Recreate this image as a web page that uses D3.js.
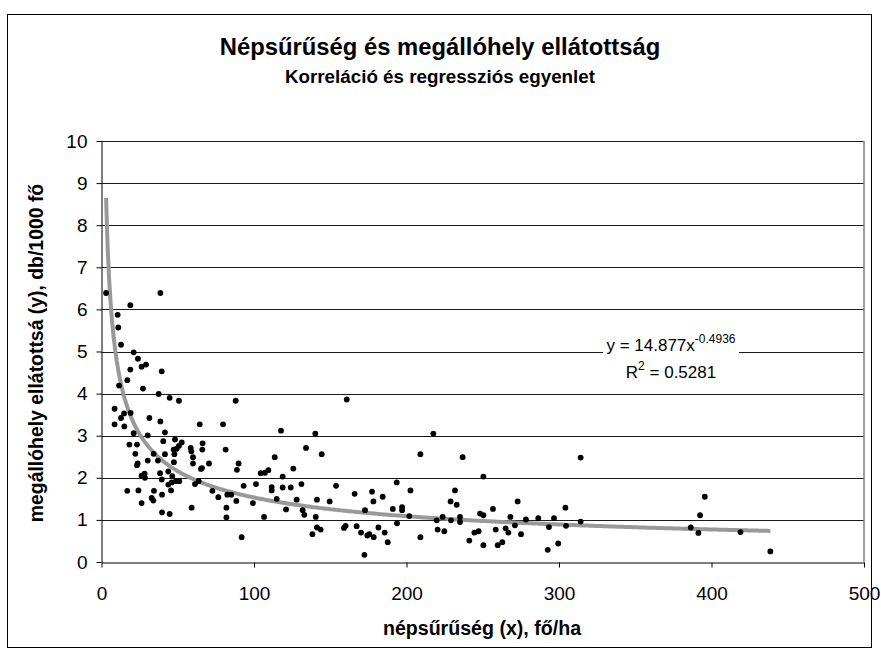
<!DOCTYPE html>
<html>
<head>
<meta charset="utf-8">
<script src="https://cdn.jsdelivr.net/npm/d3@7"></script>
<style>
    body { margin: 0; background: #fff; }
    text { font-family: "Liberation Sans", Arial, sans-serif; }
</style>
</head>
<body>
<div id="canvas"></div>
<script>
"use strict"

/*** DATA ***/
/* népsűrűség (x), fő/ha */
let densityX = [
    3.0, 38.6, 18.9, 10.6, 11.0, 12.8, 21.1, 23.9, 26.3, 29.2, 18.9, 39.5, 16.9, 11.5, 27.2, 37.5,
    44.7, 50.8, 88.0, 8.6, 14.8, 19.1, 12.8, 31.4, 38.6, 8.6, 15.0, 64.4, 79.7, 21.1, 30.3, 41.6,
    40.5, 48.2, 52.6, 18.3, 23.3, 50.8, 58.5, 66.3, 47.3, 49.3, 58.9, 66.1, 81.4, 22.2, 41.6, 47.8,
    34.2, 60.0, 37.0, 47.5, 30.3, 23.7, 23.3, 60.0, 70.5, 65.9, 65.2, 89.9, 88.8, 38.4, 43.8, 28.3,
    26.3, 28.5, 39.5, 46.4, 43.8, 46.0, 48.8, 51.0, 45.6, 61.3, 63.7, 16.9, 24.2, 34.4, 32.9, 34.0,
    39.7, 26.3, 72.7, 76.6, 82.5, 85.1, 88.4, 93.2, 99.3, 59.1, 39.7, 44.7, 81.9, 81.9, 91.9,
    160.8, 117.7, 140.2, 134.1, 144.4, 113.6, 125.8, 104.4, 107.2, 109.4, 118.8, 101.3, 111.6, 111.6,
    118.8, 124.1, 131.1, 153.8, 193.6, 202.6, 166.0, 177.4, 178.3, 184.4, 128.0, 141.3, 149.6, 114.9,
    121.0, 131.9, 133.0, 106.6, 140.5, 172.8, 191.0, 197.1, 197.1, 193.8, 141.3, 143.7, 138.3, 159.0,
    160.1, 167.3, 170.2, 174.3, 175.6, 178.5, 181.6, 185.7, 187.7, 172.4,
    217.6, 209.1, 236.8, 250.4, 231.8, 228.9, 232.9, 272.9, 256.7, 304.2, 201.8, 248.2, 250.4, 223.7,
    235.1, 219.8, 229.2, 235.1, 268.1, 278.3, 286.4, 296.7, 271.1, 265.0, 266.8, 258.5, 220.4, 224.8,
    244.5, 247.3, 275.1, 293.4, 209.1, 241.2, 250.4, 259.8, 262.8, 299.5, 292.6,
    314.2, 314.2, 304.6, 395.6, 392.5, 386.4, 391.4, 419.0, 438.6
]

/* megállóhely ellátottság (y), db/1000 fő */
let supplyY = [
    6.39, 6.39, 6.10, 5.87, 5.57, 5.16, 4.98, 4.83, 4.64, 4.69, 4.57, 4.53, 4.32, 4.19, 4.12, 3.99,
    3.90, 3.83, 3.83, 3.64, 3.53, 3.54, 3.42, 3.42, 3.34, 3.27, 3.22, 3.27, 3.27, 3.06, 3.01, 3.08,
    2.87, 2.91, 2.84, 2.79, 2.79, 2.76, 2.71, 2.82, 2.67, 2.69, 2.63, 2.67, 2.67, 2.57, 2.56, 2.56,
    2.57, 2.49, 2.41, 2.37, 2.41, 2.34, 2.30, 2.34, 2.34, 2.23, 2.21, 2.34, 2.19, 2.11, 2.15, 2.10,
    2.05, 2.00, 1.96, 2.04, 1.84, 1.89, 1.92, 1.92, 1.70, 1.85, 1.92, 1.69, 1.70, 1.69, 1.52, 1.46,
    1.60, 1.40, 1.69, 1.54, 1.60, 1.60, 1.45, 1.81, 1.40, 1.29, 1.18, 1.14, 1.29, 1.06, 0.59,
    3.86, 3.12, 3.05, 2.71, 2.56, 2.49, 2.22, 2.11, 2.12, 2.18, 2.03, 1.85, 1.78, 1.70,
    1.77, 1.77, 1.85, 1.81, 1.89, 1.70, 1.62, 1.67, 1.44, 1.55, 1.48, 1.48, 1.44, 1.50,
    1.25, 1.23, 1.12, 1.07, 1.07, 1.23, 1.26, 1.30, 1.23, 0.92, 0.82, 0.77, 0.66, 0.81,
    0.86, 0.85, 0.70, 0.63, 0.66, 0.59, 0.82, 0.70, 0.47, 0.17,
    3.05, 2.56, 2.49, 2.03, 1.70, 1.44, 1.36, 1.44, 1.26, 1.29, 1.09, 1.15, 1.11, 1.07,
    1.07, 0.99, 0.99, 0.95, 1.07, 1.01, 1.04, 1.04, 0.87, 0.80, 0.70, 0.77, 0.77, 0.73,
    0.70, 0.73, 0.66, 0.83, 0.59, 0.51, 0.40, 0.40, 0.47, 0.44, 0.29,
    2.48, 0.96, 0.86, 1.55, 1.11, 0.82, 0.69, 0.71, 0.25
]

/* tick labels */
let xTicks = [0, 100, 200, 300, 400, 500]
let yTicks = [0, 1, 2, 3, 4, 5, 6, 7, 8, 9, 10]

/* power regression from the chart: y = a * x^b */
let trendA = 14.877
let trendB = -0.4936
let rSquared = "0.5281"

/*** CANVAS SETUP ***/
let svgWidth = 881
let svgHeight = 656

let margin = {
    top: 141,
    right: 17,
    bottom: 94,
    left: 101.5
}

let svg = d3.select("#canvas")
    .append("svg")
    .attr("width", svgWidth)
    .attr("height", svgHeight)

/* chart area border */
svg.append("rect")
    .attr("x", 7.5)
    .attr("y", 14.5)
    .attr("width", 864)
    .attr("height", 633)
    .attr("fill", "#fff")
    .attr("stroke", "#000")
    .attr("stroke-width", 1)

/*** SCALES ***/
let xScale = d3.scaleLinear()
    .domain([0, 500])
    .range([margin.left, svgWidth - margin.right])

let yScale = d3.scaleLinear()
    .domain([0, 10])
    .range([svgHeight - margin.bottom, margin.top])

/*** TITLES ***/
svg.append("text")
    .attr("x", 440)
    .attr("y", 55)
    .attr("text-anchor", "middle")
    .attr("font-size", "23.8px")
    .attr("font-weight", "bold")
    .text("Népsűrűség és megállóhely ellátottság")

svg.append("text")
    .attr("x", 440)
    .attr("y", 83)
    .attr("text-anchor", "middle")
    .attr("font-size", "18.8px")
    .attr("font-weight", "bold")
    .text("Korreláció és regressziós egyenlet")

/*** GRIDLINES ***/
svg.append("g")
    .selectAll("line")
    .data(yTicks.filter(function (t) { return t > 0 }))
    .join("line")
    .attr("x1", margin.left)
    .attr("x2", svgWidth - margin.right)
    .attr("y1", function (t) { return Math.round(yScale(t)) + 0.5 })
    .attr("y2", function (t) { return Math.round(yScale(t)) + 0.5 })
    .attr("stroke", "#1a1a1a")
    .attr("stroke-width", 1)

/* plot area right border (gray) */
svg.append("line")
    .attr("x1", svgWidth - margin.right)
    .attr("x2", svgWidth - margin.right)
    .attr("y1", margin.top)
    .attr("y2", svgHeight - margin.bottom)
    .attr("stroke", "#808080")
    .attr("stroke-width", 1.5)

/*** AXES ***/
let xAxis = d3.axisBottom(xScale)
    .tickValues(xTicks)
    .tickSize(5)
    .tickSizeOuter(0)
    .tickPadding(19)

let yAxis = d3.axisLeft(yScale)
    .tickValues(yTicks)
    .tickSize(5)
    .tickSizeOuter(0)
    .tickPadding(9)

svg.append("g")
    .attr("transform", "translate(0," + (svgHeight - margin.bottom + 0.5) + ")")
    .call(xAxis)

svg.append("g")
    .attr("transform", "translate(" + margin.left + ",0)")
    .call(yAxis)

svg.selectAll(".tick text")
    .attr("font-family", "'Liberation Sans', Arial, sans-serif")
    .attr("font-size", "19px")
    .attr("fill", "#000")

svg.selectAll(".domain, .tick line")
    .attr("stroke", "#000")

/*** TRENDLINE ***/
let xMin = d3.min(densityX)
let xMax = d3.max(densityX)
let trendPts = d3.range(xMin, xMax, 1).concat([xMax]).map(function (x) {
    return [x, trendA * Math.pow(x, trendB)]
})

let trendLine = d3.line()
    .x(function (d) { return xScale(d[0]) })
    .y(function (d) { return yScale(d[1]) })

svg.append("path")
    .datum(trendPts)
    .attr("d", trendLine)
    .attr("fill", "none")
    .attr("stroke", "#999")
    .attr("stroke-width", 4)

/*** POINTS ***/
svg.append("g")
    .selectAll("circle")
    .data(d3.range(densityX.length))
    .join("circle")
    .attr("cx", function (i) { return xScale(densityX[i]) })
    .attr("cy", function (i) { return yScale(supplyY[i]) })
    .attr("r", 2.9)
    .attr("fill", "#000")

/*** EQUATION LABEL ***/
let eq = svg.append("g")

eq.append("rect")
    .attr("x", 603)
    .attr("y", 322)
    .attr("width", 136)
    .attr("height", 62)
    .attr("fill", "#fff")

let eqLine = eq.append("text")
    .attr("x", 671)
    .attr("y", 351)
    .attr("text-anchor", "middle")
    .attr("font-size", "17px")

eqLine.append("tspan").text("y = " + trendA + "x")
eqLine.append("tspan")
    .attr("dy", -8)
    .attr("font-size", "12px")
    .text(trendB)

let r2Line = eq.append("text")
    .attr("x", 671)
    .attr("y", 378)
    .attr("text-anchor", "middle")
    .attr("font-size", "17px")

r2Line.append("tspan").text("R")
r2Line.append("tspan")
    .attr("dy", -8)
    .attr("font-size", "12px")
    .text("2")
r2Line.append("tspan")
    .attr("dy", 8)
    .text(" = " + rSquared)

/*** AXIS TITLES ***/
svg.append("text")
    .attr("x", 482)
    .attr("y", 635)
    .attr("text-anchor", "middle")
    .attr("font-size", "19.6px")
    .attr("font-weight", "bold")
    .text("népsűrűség (x), fő/ha")

svg.append("text")
    .attr("transform", "translate(43," + 353 + ") rotate(-90)")
    .attr("text-anchor", "middle")
    .attr("font-size", "19.4px")
    .attr("font-weight", "bold")
    .text("megállóhely ellátottsá (y), db/1000 fő")
</script>
</body>
</html>
